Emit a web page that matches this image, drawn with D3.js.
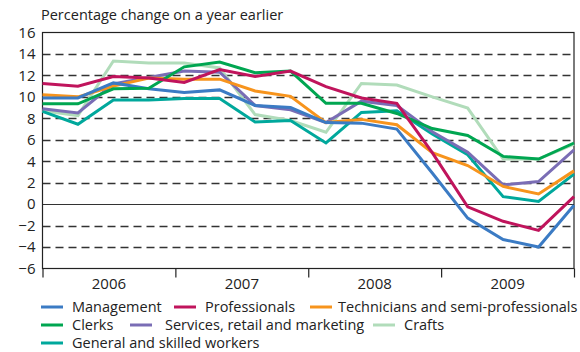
<!DOCTYPE html>
<html><head><meta charset="utf-8">
<script src="https://cdn.jsdelivr.net/npm/d3@7"></script>
<style>body{margin:0;background:#fff}svg{display:block;font-family:"Open Sans",sans-serif}</style>
</head><body><svg id="c" width="580" height="352"></svg>
<script>
const years = ["2006","2007","2008","2009"];
const quarters = d3.range(16);
const yTicks = [-6,-4,-2,0,2,4,6,8,10,12,14,16];
const seriesNames = ["Management","Professionals","Technicians and semi-professionals","Clerks","Services, retail and marketing","Crafts","General and skilled workers"];
const seriesColors = ["#3b7bc4","#c0145c","#f7941d","#00a651","#7a6db5","#b1dcba","#00a89c"];
const management   = [9.9,9.9,11.3,10.75,10.4,10.65,9.2,9.0,7.6,7.55,7.0,2.9,-1.3,-3.3,-4.0,-0.1];
const professionals= [11.25,11.0,11.9,11.75,11.35,12.55,11.9,12.4,10.95,9.9,9.4,4.8,-0.25,-1.6,-2.45,0.7];
const technicians  = [10.2,10.0,11.0,11.75,11.65,11.65,10.55,10.05,7.6,7.9,7.4,4.8,3.6,1.65,0.95,3.1];
const clerks       = [9.35,9.35,10.75,10.8,12.8,13.25,12.25,12.4,9.4,9.4,8.45,7.05,6.4,4.45,4.2,5.7];
const services     = [8.9,8.5,11.2,11.8,12.4,12.3,9.2,8.8,7.6,9.6,9.2,6.75,4.85,1.8,2.1,5.05];
const crafts       = [8.7,8.25,13.35,13.15,13.15,12.7,8.35,7.8,6.7,11.25,11.1,10.0,8.95,4.2,4.2,5.6];
const general      = [8.65,7.45,9.7,9.7,9.85,9.85,7.65,7.8,5.7,8.55,8.7,6.55,4.6,0.7,0.25,2.8];
const seriesValues = [management,professionals,technicians,clerks,services,crafts,general];
const drawOrder = [5,6,4,2,0,3,1];

const svg = d3.select("#c");
const L=42.5, R=574, T=32.5, B=268.5;
const x = d3.scaleLinear().domain([0,15]).range([L,R]);
const xYear = d3.scaleLinear().domain([0,4]).range([L,R]);
const y = d3.scaleLinear().domain([-6,16]).range([B,T]);

svg.append("text").attr("x",41).attr("y",20).attr("font-size",14.5).attr("fill","#222")
  .text("Percentage change on a year earlier");

// gridlines
svg.append("g").selectAll("line").data(yTicks.filter(v=>v>-6&&v<16)).join("line")
  .attr("x1",L).attr("x2",R).attr("y1",d=>Math.round(y(d))+0.5).attr("y2",d=>Math.round(y(d))+0.5)
  .attr("stroke","#333").attr("stroke-width",d=>d===0?1:1.3)
  .attr("stroke-dasharray",d=>d===0?null:"8,5");

// frame
svg.append("rect").attr("x",L).attr("y",T).attr("width",R-L).attr("height",B-T)
  .attr("fill","none").attr("stroke","#222").attr("stroke-width",1.2);

// y axis
const yAxis = d3.axisLeft(y).tickValues(yTicks).tickSize(0).tickPadding(7).tickFormat(d3.format("d"));
const gy = svg.append("g").attr("transform",`translate(${L},0)`).call(yAxis);
gy.select(".domain").remove();
gy.selectAll("text").attr("font-size",15).attr("fill","#222").attr("font-family","Open Sans");

// x axis (year boundaries)
const gx = svg.append("g").attr("transform",`translate(0,${B})`)
  .call(d3.axisBottom(xYear).tickValues([0,1,2,3,4]).tickSize(9).tickFormat(""));
gx.select(".domain").remove();
gx.selectAll("line").attr("stroke","#222").attr("stroke-width",1.2);
svg.append("g").selectAll("text").data(years).join("text")
  .attr("x",(d,i)=>xYear(i+0.5)).attr("y",289).attr("text-anchor","middle")
  .attr("font-size",15).attr("fill","#222").text(d=>d);

// lines
const line = d3.line().x((d,i)=>x(quarters[i])).y(d=>y(d)).curve(d3.curveLinear);
svg.append("g").selectAll("path").data(drawOrder).join("path")
  .attr("d",k=>line(seriesValues[k])).attr("fill","none")
  .attr("stroke",k=>seriesColors[k]).attr("stroke-width",3).attr("stroke-linejoin","miter");

// legend
const legendPos = [[41,307],[174,307],[310,307],[41,325],[130,325],[373,325],[41,343]];
const lg = svg.append("g").selectAll("g").data(seriesNames).join("g")
  .attr("transform",(d,i)=>`translate(${legendPos[i][0]},${legendPos[i][1]})`);
lg.append("line").attr("x1",0).attr("x2",22).attr("stroke",(d,i)=>seriesColors[i]).attr("stroke-width",3);
lg.append("text").attr("x",(d,i)=>i===4?35:(i===2?28:31)).attr("y",5).attr("font-size",14.5).attr("fill","#222").text(d=>d);
</script></body></html>
